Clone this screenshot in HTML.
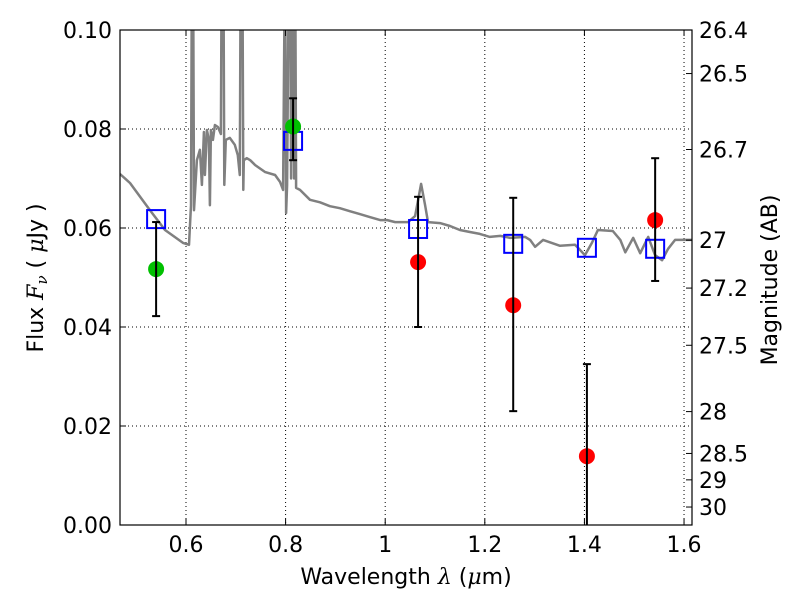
<!DOCTYPE html>
<html><head><meta charset="utf-8"><style>
html,body{margin:0;padding:0;background:#fff;}
svg{display:block;font-family:"DejaVu Sans","Liberation Sans",sans-serif;}
</style></head><body>
<svg id="chart" width="800" height="600" viewBox="0 0 800 600" xmlns="http://www.w3.org/2000/svg">
<rect x="0" y="0" width="800" height="600" fill="#fff"/>
<defs><clipPath id="clip"><rect x="120" y="30" width="572" height="495"/></clipPath></defs>
<g id="grid"></g>
<g id="series" clip-path="url(#clip)"></g>
<g id="axes"></g>
<text x="406" y="584" font-size="22" text-anchor="middle">Wavelength  <tspan font-family="'DejaVu Serif',serif" font-style="italic">λ</tspan> (<tspan font-family="'DejaVu Serif',serif" font-style="italic">μ</tspan>m)</text>
<text transform="translate(43,278) rotate(-90)" font-size="22" text-anchor="middle">Flux  <tspan font-family="'DejaVu Serif',serif" font-style="italic">F</tspan><tspan font-family="'DejaVu Serif',serif" font-style="italic" font-size="15" dy="4">ν</tspan><tspan dy="-4">  (  </tspan><tspan font-family="'DejaVu Serif',serif" font-style="italic">μ</tspan>Jy )</text>
<text transform="translate(777,280) rotate(-90)" font-size="22" text-anchor="middle">Magnitude (AB)</text>
</svg>
<script>
const specLam = [0.4675,0.4876,0.5277,0.5578,0.594,0.606,0.610,0.612,0.614,0.616,0.622,0.628,0.632,0.636,0.638,0.642,0.646,0.648,0.650,0.654,0.658,0.664,0.670,0.672,0.675,0.677,0.680,0.688,0.698,0.704,0.708,0.710,0.713,0.715,0.716,0.722,0.729,0.739,0.759,0.779,0.789,0.795,0.799,0.801,0.803,0.807,0.809,0.811,0.813,0.815,0.817,0.819,0.821,0.829,0.849,0.869,0.889,0.909,0.929,0.949,0.969,0.990,1.004,1.020,1.046,1.060,1.072,1.080,1.086,1.110,1.130,1.150,1.170,1.190,1.210,1.231,1.251,1.281,1.291,1.301,1.317,1.351,1.381,1.391,1.401,1.415,1.427,1.457,1.472,1.482,1.498,1.512,1.528,1.542,1.556,1.568,1.582,1.602,1.62];
const specFlux = [0.0709,0.0691,0.0636,0.0596,0.0570,0.0566,0.0646,0.12,0.12,0.0636,0.0737,0.0758,0.0687,0.0794,0.0707,0.0798,0.0778,0.0646,0.0798,0.0778,0.0808,0.0804,0.0790,0.12,0.12,0.0687,0.0778,0.0782,0.0768,0.0747,0.0707,0.12,0.12,0.0677,0.0737,0.0741,0.0737,0.0727,0.0713,0.0707,0.0693,0.0677,0.12,0.0630,0.0687,0.12,0.12,0.070,0.12,0.12,0.070,0.12,0.0681,0.0677,0.0657,0.0652,0.0644,0.0640,0.0634,0.0628,0.0622,0.0616,0.0616,0.0612,0.0612,0.0624,0.0689,0.0646,0.0612,0.0610,0.0604,0.0596,0.0592,0.0588,0.0582,0.0584,0.0580,0.0582,0.0576,0.0562,0.0576,0.0564,0.0566,0.0556,0.0545,0.0570,0.0596,0.0594,0.0576,0.0551,0.0580,0.0549,0.0582,0.0545,0.0535,0.0558,0.0576,0.0576,0.0576];
const boxLam = [0.54,0.815,1.066,1.257,1.405,1.542];
const boxFlux = [0.0618,0.0776,0.0598,0.0568,0.0560,0.0558];
const greenLam = [0.54,0.815];
const greenFlux = [0.0517,0.0805];
const greenErrLo = [0.0422,0.0737];
const greenErrHi = [0.0612,0.0862];
const redLam = [1.066,1.257,1.405,1.542];
const redFlux = [0.0531,0.0444,0.0139,0.0616];
const redErrLo = [0.0400,0.0230,-0.005,0.0493];
const redErrHi = [0.0663,0.0661,0.0325,0.0741];
const xTicks = [0.6,0.8,1.0,1.2,1.4,1.6];
const xTickLabels = ["0.6","0.8","1","1.2","1.4","1.6"];
const yTicks = [0,0.02,0.04,0.06,0.08,0.1];
const yTickLabels = ["0.00","0.02","0.04","0.06","0.08","0.10"];
const magTicks = [26.4,26.5,26.7,27,27.2,27.5,28,28.5,29,30];
const magTickLabels = ["26.4","26.5","26.7","27","27.2","27.5","28","28.5","29","30"];

const X0=120,X1=692,Y0=525,Y1=30;
const xMin=0.4675,xMax=1.616,yMin=0,yMax=0.1;
function sx(v){return X0+(v-xMin)/(xMax-xMin)*(X1-X0);}
function sy(v){return Y0-(v-yMin)/(yMax-yMin)*(Y0-Y1);}
function magToFlux(m){return Math.pow(10,(23.9-m)/2.5);}
const NS="http://www.w3.org/2000/svg";
function mk(tag,attrs,parent){const e=document.createElementNS(NS,tag);for(const k in attrs)e.setAttribute(k,attrs[k]);parent.appendChild(e);return e;}
const grid=document.getElementById('grid'),series=document.getElementById('series'),axes=document.getElementById('axes');

xTicks.forEach(function(t){
  const g=mk('line',{x1:sx(t),x2:sx(t),y1:Y1,y2:Y0,stroke:'#000','stroke-width':1,'stroke-dasharray':'1,3'},grid);
  
  
});
yTicks.forEach(function(t){
  const g=mk('line',{x1:X0,x2:X1,y1:sy(t),y2:sy(t),stroke:'#000','stroke-width':1,'stroke-dasharray':'1,3'},grid);
  
  
});

let d='';
for(let i=0;i<specLam.length;i++){d+=(i?'L':'M')+sx(specLam[i]).toFixed(1)+','+sy(specFlux[i]).toFixed(1);}
const sp=mk('path',{d:d,fill:'none',stroke:'#808080','stroke-width':2.5,'stroke-linejoin':'round'},series);



boxLam.forEach(function(l,i){
  const b=mk('rect',{x:sx(l)-9,y:sy(boxFlux[i])-9,width:18,height:18,fill:'none',stroke:'#0000ff','stroke-width':2},series);
  
  
});
function drawPts(lam,flux,lo,hi,color,name){
  lam.forEach(function(l,i){
    const x=sx(l);
    const c=mk('circle',{cx:x,cy:sy(flux[i]),r:8,fill:color},series);
    
    
    const e=mk('line',{x1:x,x2:x,y1:sy(lo[i]),y2:sy(hi[i]),stroke:'#000','stroke-width':2},series);
    
    
    [lo[i],hi[i]].forEach(function(v){
      const cap=mk('line',{x1:x-4,x2:x+4,y1:sy(v),y2:sy(v),stroke:'#000','stroke-width':2},series);
      
      
    });
  });
}
drawPts(greenLam,greenFlux,greenErrLo,greenErrHi,'#00c000','green');
drawPts(redLam,redFlux,redErrLo,redErrHi,'#ff0000','red');

const fr=mk('rect',{x:X0,y:Y1,width:X1-X0,height:Y0-Y1,fill:'none',stroke:'#000','stroke-width':1.2},axes);



xTicks.forEach(function(t,i){
  const x=sx(t);
  mk('line',{x1:x,x2:x,y1:Y0,y2:Y0-6,stroke:'#000'},axes);
  mk('line',{x1:x,x2:x,y1:Y1,y2:Y1+6,stroke:'#000'},axes);
  const tx=mk('text',{x:x,y:Y0+27,'font-size':22,'text-anchor':'middle'},axes);
  tx.textContent=xTickLabels[i];
  
  
});
yTicks.forEach(function(t,i){
  const y=sy(t);
  mk('line',{x1:X0,x2:X0+6,y1:y,y2:y,stroke:'#000'},axes);
  const tx=mk('text',{x:X0-8,y:y+8,'font-size':22,'text-anchor':'end'},axes);
  tx.textContent=yTickLabels[i];
  
  
});
magTicks.forEach(function(m,i){
  const y=sy(magToFlux(m));
  mk('line',{x1:X1,x2:X1-6,y1:y,y2:y,stroke:'#000'},axes);
  const tx=mk('text',{x:X1+7,y:y+8,'font-size':22,'text-anchor':'start'},axes);
  tx.textContent=magTickLabels[i];
  
  
});
</script>
</body></html>
